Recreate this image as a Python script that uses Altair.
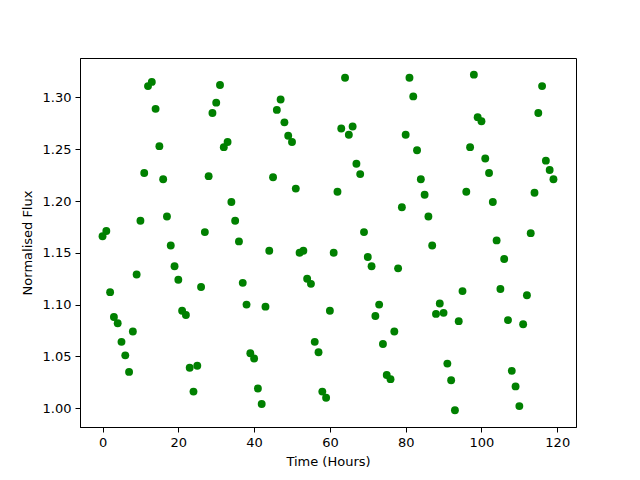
import altair as alt
import pandas as pd

hours = list(range(120))
flux = [
    1.166, 1.171, 1.112, 1.088, 1.082, 1.064, 1.051, 1.035, 1.074, 1.129,
    1.181, 1.227, 1.311, 1.315, 1.289, 1.253, 1.221, 1.185, 1.157, 1.137,
    1.124, 1.094, 1.090, 1.039, 1.016, 1.041, 1.117, 1.170, 1.224, 1.285,
    1.295, 1.312, 1.252, 1.257, 1.199, 1.181, 1.161, 1.121, 1.100, 1.053,
    1.048, 1.019, 1.004, 1.098, 1.152, 1.223, 1.288, 1.298, 1.276, 1.263,
    1.257, 1.212, 1.150, 1.152, 1.125, 1.120, 1.064, 1.054, 1.016, 1.010,
    1.094, 1.150, 1.209, 1.270, 1.319, 1.264, 1.272, 1.236, 1.226, 1.170,
    1.146, 1.137, 1.089, 1.100, 1.062, 1.032, 1.028, 1.074, 1.135, 1.194,
    1.264, 1.319, 1.301, 1.249, 1.221, 1.206, 1.185, 1.157, 1.091, 1.101,
    1.092, 1.043, 1.027, 0.998, 1.084, 1.113, 1.209, 1.252, 1.322, 1.281,
    1.277, 1.241, 1.227, 1.199, 1.162, 1.115, 1.144, 1.085, 1.036, 1.021,
    1.002, 1.081, 1.109, 1.169, 1.208, 1.285, 1.311, 1.239, 1.230, 1.221,
]

df = pd.DataFrame({"hours": hours, "flux": flux})

font = "DejaVu Sans"

chart = (
    alt.Chart(df)
    .mark_circle(color="#008000", opacity=1, size=62)
    .encode(
        x=alt.X(
            "hours:Q",
            title="Time (Hours)",
            scale=alt.Scale(domain=[-5.95, 124.95], nice=False, zero=False),
            axis=alt.Axis(values=[0, 20, 40, 60, 80, 100, 120], format="d",
                          titlePadding=6),
        ),
        y=alt.Y(
            "flux:Q",
            title="Normalised Flux",
            scale=alt.Scale(domain=[0.9818, 1.3381], nice=False, zero=False),
            axis=alt.Axis(values=[1.0, 1.05, 1.1, 1.15, 1.2, 1.25, 1.3], format=".2f",
                          titlePadding=8),
        ),
    )
    .properties(
        width=496,
        height=369,
        autosize=alt.AutoSizeParams(type="none"),
        padding={"left": 72, "top": 50, "right": 56, "bottom": 45},
    )
    .configure_view(stroke="black", strokeWidth=1)
    .configure_axis(
        grid=False,
        domainColor="black",
        domainWidth=1,
        tickColor="black",
        tickSize=5,
        tickWidth=1,
        labelFont=font,
        labelFontSize=13,
        labelColor="black",
        labelPadding=4,
        titleFont=font,
        titleFontSize=13,
        titleFontWeight="normal",
        titleColor="black",
    )
)

chart.save("out.html", embed_options={"renderer": "svg", "actions": False})
